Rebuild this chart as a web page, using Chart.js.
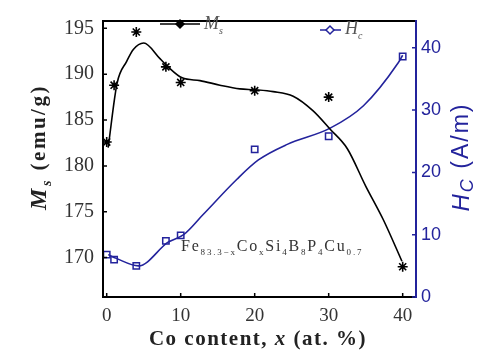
<!DOCTYPE html>
<html>
<head>
<meta charset="utf-8">
<script src="https://cdn.jsdelivr.net/npm/chart.js@4.4.1/dist/chart.umd.min.js"></script>
<style>
  html, body { margin: 0; padding: 0; background: #fff; }
  #wrap { width: 481px; height: 358px; }
</style>
</head>
<body>
<div id="wrap"><canvas id="chart"></canvas></div>
<script>
// measured points
const coContent = [0, 1, 4, 8, 10, 20, 30, 40];
const msValues = [182.6, 188.8, 194.6, 190.8, 189.1, 188.2, 187.5, 169.0];
const hcValues = [6.8, 6.0, 5.0, 9.0, 9.9, 23.7, 25.8, 38.6];

// fitted curves
const msFitX = [0.2, 1.4, 2.7, 3.6, 5.0, 7.2, 8.3, 10.2, 12.6, 15.3, 18, 20, 22.5, 25.2, 27.9, 30.2, 32.5, 35, 37.4, 39.9];
const msFitY = [182, 189, 191.4, 192.7, 193.4, 191.7, 190.8, 189.6, 189.3, 188.8, 188.4, 188.3, 188.1, 187.6, 186, 184, 181.9, 177.8, 174.1, 169.6];
const hcFitX = [0.2, 1.3, 4.3, 8.3, 10.4, 13, 17.6, 20.5, 24.4, 30.2, 34.7, 39.4, 40];
const hcFitY = [6.8, 6.2, 5.0, 8.8, 10, 13.2, 18.9, 22, 24.5, 27.1, 30.7, 37.6, 38.8];

const xTicks = [0, 10, 20, 30, 40];
const msTicks = [170, 175, 180, 185, 190, 195];
const hcTicks = [0, 10, 20, 30, 40];

const BLUE = '#23239c';
const serif = "'Liberation Serif', 'DejaVu Serif', serif";
const sans = "'Liberation Sans', Arial, sans-serif";

const pts = (xs, ys) => xs.map((x, i) => ({ x: x, y: ys[i] }));

// draw text pieces one after another (for subscripts / italics)
const drawRuns = (ctx, runs, x, y, ls) => {
    ctx.letterSpacing = (ls || 0) + 'px';
    for (let r of runs) {
        ctx.font = r.f;
        ctx.fillText(r.t, x, y + (r.dy || 0));
        x += ctx.measureText(r.t).width;
    }
    ctx.letterSpacing = '0px';
    return x;
}
const runsWidth = (ctx, runs, ls) => {
    ctx.letterSpacing = (ls || 0) + 'px';
    let w = 0;
    for (let r of runs) {
        ctx.font = r.f;
        w += ctx.measureText(r.t).width;
    }
    ctx.letterSpacing = '0px';
    return w;
}
const drawRotated = (ctx, runs, cx, cy, color, ls) => {
    ctx.save();
    ctx.translate(cx, cy);
    ctx.rotate(-Math.PI / 2);
    ctx.fillStyle = color;
    ctx.textBaseline = 'middle';
    drawRuns(ctx, runs, -runsWidth(ctx, runs, ls) / 2, 0, ls);
    ctx.restore();
}

const decor = {
    id: 'decor',
    afterDraw(chart) {
        const { ctx, chartArea: a, scales } = chart;
        ctx.save();
        ctx.lineWidth = 2;
        // frame
        ctx.strokeStyle = '#000';
        ctx.beginPath();
        ctx.moveTo(a.right, a.top); ctx.lineTo(a.left, a.top);
        ctx.lineTo(a.left, a.bottom); ctx.lineTo(a.right, a.bottom);
        ctx.stroke();
        ctx.strokeStyle = BLUE;
        ctx.beginPath(); ctx.moveTo(a.right, a.top - 1); ctx.lineTo(a.right, a.bottom + 1); ctx.stroke();

        // inward ticks
        ctx.lineWidth = 1.5;
        ctx.strokeStyle = '#000';
        ctx.beginPath();
        for (let v of xTicks) {
            let px = scales.x.getPixelForValue(v);
            ctx.moveTo(px, a.bottom); ctx.lineTo(px, a.bottom - 4);
        }
        for (let v of msTicks) {
            let py = scales.y.getPixelForValue(v);
            ctx.moveTo(a.left, py); ctx.lineTo(a.left + 4, py);
        }
        ctx.stroke();
        ctx.strokeStyle = BLUE;
        ctx.beginPath();
        for (let v of hcTicks) {
            let py = scales.y1.getPixelForValue(v);
            ctx.moveTo(a.right, py); ctx.lineTo(a.right - 4, py);
        }
        ctx.stroke();

        // axis titles
        drawRotated(ctx, [
            { t: 'M', f: `italic bold 24px ${serif}` },
            { t: 's', f: `italic bold 14px ${serif}`, dy: 7 },
            { t: ' (emu/g)', f: `bold 21px ${serif}` },
        ], 40, 147, '#222', 2.5);
        drawRotated(ctx, [
            { t: 'H', f: `italic 24px ${sans}` },
            { t: 'C', f: `italic 18px ${sans}`, dy: 6 },
            { t: ' (A/m)', f: `23px ${sans}` },
        ], 462, 157, BLUE, 2);

        ctx.fillStyle = '#222';
        ctx.textBaseline = 'middle';
        let xt = [
            { t: 'Co content, ', f: `bold 21px ${serif}` },
            { t: 'x', f: `italic bold 21px ${serif}` },
            { t: ' (at. %)', f: `bold 21px ${serif}` },
        ];
        drawRuns(ctx, xt, 258 - runsWidth(ctx, xt, 1.5) / 2, 340, 1.5);

        // composition label
        ctx.fillStyle = '#333';
        ctx.textBaseline = 'alphabetic';
        const big = `16px ${serif}`, sub = `9px ${serif}`;
        drawRuns(ctx, [
            { t: 'Fe', f: big }, { t: '83.3\u2212x', f: sub, dy: 4 },
            { t: 'Co', f: big }, { t: 'x', f: sub, dy: 4 },
            { t: 'Si', f: big }, { t: '4', f: sub, dy: 4 },
            { t: 'B', f: big }, { t: '8', f: sub, dy: 4 },
            { t: 'P', f: big }, { t: '4', f: sub, dy: 4 },
            { t: 'Cu', f: big }, { t: '0.7', f: sub, dy: 4 },
        ], 181, 251, 1.8);

        // legends
        ctx.lineWidth = 1.5;
        ctx.strokeStyle = '#000';
        ctx.beginPath(); ctx.moveTo(160, 24); ctx.lineTo(200, 24); ctx.stroke();
        ctx.fillStyle = '#000';
        Chart.helpers.drawPoint(ctx, { pointStyle: 'rectRot', radius: 4, borderWidth: 1 }, 180, 24);
        ctx.fill();
        ctx.fillStyle = '#555';
        drawRuns(ctx, [
            { t: 'M', f: `italic 18px ${serif}` },
            { t: 's', f: `italic 10px ${serif}`, dy: 5 },
        ], 204, 29);

        ctx.strokeStyle = BLUE;
        ctx.beginPath(); ctx.moveTo(320, 30); ctx.lineTo(341, 30); ctx.stroke();
        ctx.fillStyle = '#fff';
        Chart.helpers.drawPoint(ctx, { pointStyle: 'rectRot', radius: 4, borderWidth: 1.5 }, 330, 30);
        ctx.fillStyle = '#555';
        drawRuns(ctx, [
            { t: 'H', f: `italic 18px ${serif}` },
            { t: 'c', f: `italic 10px ${serif}`, dy: 5 },
        ], 345, 34);
        ctx.restore();
    }
};

const keepTicks = (list) => (scale) => {
    scale.ticks = list.map(v => ({ value: v }));
};

new Chart(document.getElementById('chart'), {
    type: 'scatter',
    data: {
        datasets: [
            {
                label: 'Ms points',
                data: pts(coContent, msValues),
                yAxisID: 'y',
                pointStyle: 'star',
                pointRadius: 5,
                borderWidth: 1.6,
                borderColor: '#000',
                backgroundColor: '#000',
            },
            {
                label: 'Hc points',
                data: pts(coContent, hcValues),
                yAxisID: 'y1',
                pointStyle: 'rect',
                pointRadius: 4.5,
                borderWidth: 1.5,
                borderColor: BLUE,
                backgroundColor: 'rgba(255,255,255,0)',
            },
            {
                label: 'Ms',
                data: pts(msFitX, msFitY),
                yAxisID: 'y',
                showLine: true,
                pointRadius: 0,
                borderWidth: 1.6,
                borderColor: '#000',
                cubicInterpolationMode: 'monotone',
            },
            {
                label: 'Hc',
                data: pts(hcFitX, hcFitY),
                yAxisID: 'y1',
                showLine: true,
                pointRadius: 0,
                borderWidth: 1.6,
                borderColor: BLUE,
                cubicInterpolationMode: 'monotone',
            },
        ],
    },
    options: {
        responsive: true,
        maintainAspectRatio: false,
        animation: false,
        layout: { padding: { top: 8, left: 0, right: 0, bottom: 0 } },
        plugins: {
            legend: { display: false },
            tooltip: { enabled: false },
        },
        scales: {
            x: {
                type: 'linear',
                min: -0.5,
                max: 41.8,
                afterBuildTicks: keepTicks(xTicks),
                afterFit: (s) => { s.height = 61; },
                grid: { display: false, drawTicks: false },
                border: { display: false },
                ticks: { padding: 8, color: '#333', font: { family: serif, size: 19 } },
            },
            y: {
                position: 'left',
                min: 165.7,
                max: 195.8,
                afterBuildTicks: keepTicks(msTicks),
                afterFit: (s) => { s.width = 103; },
                grid: { display: false, drawTicks: false },
                border: { display: false },
                ticks: { padding: 9, color: '#333', font: { family: serif, size: 20 } },
            },
            y1: {
                position: 'right',
                min: 0,
                max: 44.3,
                afterBuildTicks: keepTicks(hcTicks),
                afterFit: (s) => { s.width = 65; },
                grid: { display: false, drawTicks: false },
                border: { display: false },
                ticks: { padding: 5, color: BLUE, font: { family: sans, size: 18 } },
            },
        },
    },
    plugins: [decor],
});
</script>
</body>
</html>
